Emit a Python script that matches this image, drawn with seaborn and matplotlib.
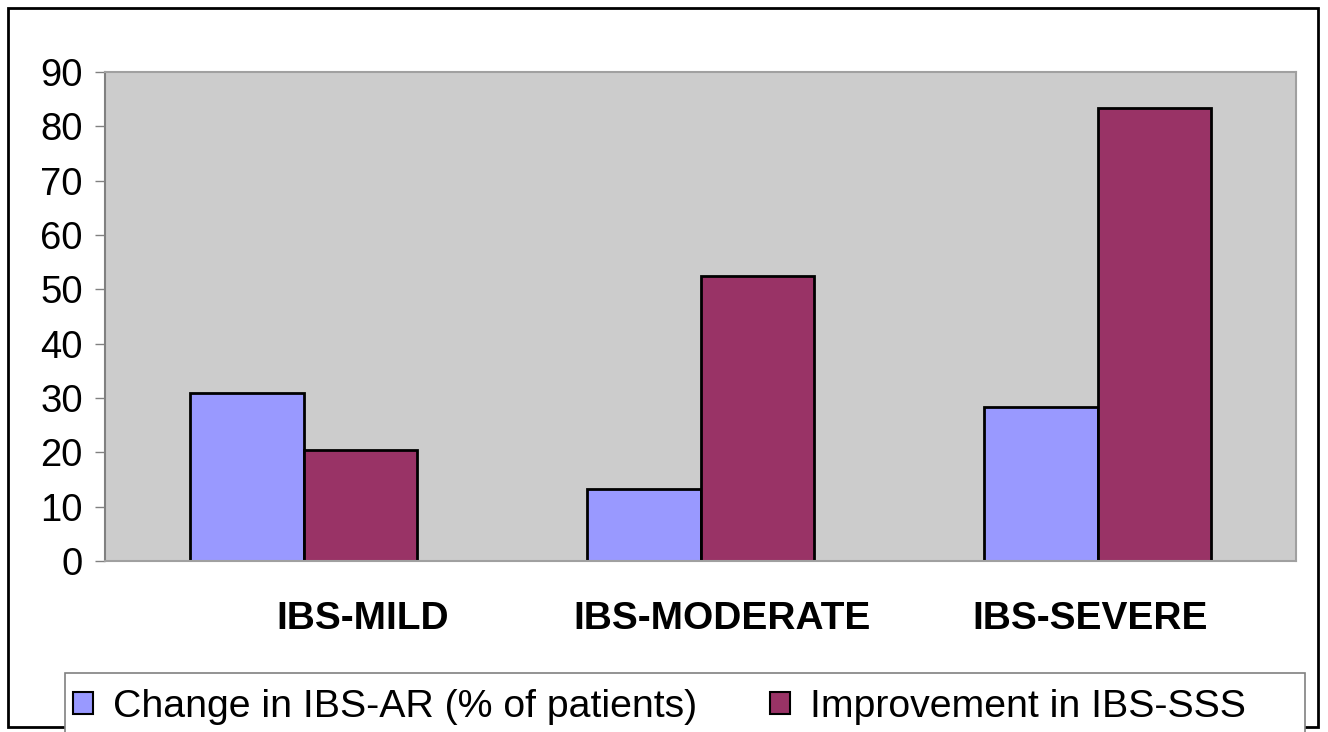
import matplotlib
matplotlib.use("Agg")
import matplotlib.pyplot as plt
import matplotlib.transforms as mtransforms
from matplotlib.patches import Rectangle
import pandas as pd
import seaborn as sns

# chart data
categories = ["IBS-MILD", "IBS-MODERATE", "IBS-SEVERE"]
series_names = ["Change in IBS-AR (% of patients)", "Improvement in IBS-SSS"]
change_ar = [30.9, 13.2, 28.3]
improvement_sss = [20.4, 52.4, 83.3]
y_ticks = [0, 10, 20, 30, 40, 50, 60, 70, 80, 90]
colors = ["#9999FF", "#993366"]

df = pd.DataFrame({
    "category": categories * 2,
    "series": [series_names[0]] * len(categories) + [series_names[1]] * len(categories),
    "value": change_ar + improvement_sss,
})

sns.set_style("white")
plt.rcParams["font.family"] = ["Liberation Sans", "DejaVu Sans"]
plt.rcParams["text.color"] = "black"
plt.rcParams["xtick.color"] = "black"
plt.rcParams["ytick.color"] = "black"

W, H = 1328, 732
fig = plt.figure(figsize=(W / 100, H / 100), dpi=100)
ax = fig.add_axes([105 / W, 1 - 561 / H, (1296 - 105) / W, (561 - 72) / H])

sns.barplot(data=df, x="category", y="value", hue="series", palette=colors,
            width=0.57, edgecolor="black", linewidth=2, saturation=1, ax=ax)

ax.set_facecolor("#CCCCCC")
ax.set_xlim(-0.5, 2.5)
ax.set_ylim(0, 90)
ax.set_yticks(y_ticks)
ax.set_xlabel("")
ax.set_ylabel("")
for side in ["top", "right", "bottom"]:
    ax.spines[side].set_color("#A0A0A0")
    ax.spines[side].set_linewidth(1.5)
ax.spines["left"].set_color("#808080")
ax.spines["left"].set_linewidth(1.5)

ax.tick_params(axis="y", direction="out", length=7, width=1, color="#808080",
               labelcolor="black", labelsize=27.5, pad=9, left=True)
ax.tick_params(axis="x", length=0, labelcolor="black", labelsize=28, pad=29)

# Excel-style category labels sit a bit off the group centres
offsets = [0.59, 0.22, -0.07]
for lab, dx in zip(ax.get_xticklabels(), offsets):
    lab.set_fontweight("bold")
    lab.set_transform(lab.get_transform() + mtransforms.ScaledTranslation(dx, 0, fig.dpi_scale_trans))

handles, labels = ax.get_legend_handles_labels()
ax.get_legend().remove()
leg = fig.legend(handles, labels, loc="center left",
                 bbox_to_anchor=(73 / W, 1 - 707 / H),
                 ncol=2, fontsize=28.3, frameon=False, borderaxespad=0, borderpad=0,
                 handlelength=0.52, handleheight=0.46, handletextpad=0.5,
                 columnspacing=1.85, labelcolor="black")
for h in leg.legend_handles:
    h.set_edgecolor("black")
    h.set_linewidth(1.5)

# outer chart frame and the legend box laid over its bottom edge
fig.patches.append(Rectangle((8 / W, 5 / H), 1310 / W, 719 / H, transform=fig.transFigure,
                             fill=False, edgecolor="black", linewidth=2, zorder=1))
fig.patches.append(Rectangle((65 / W, -5 / H), 1240 / W, (732 - 673 + 5) / H,
                             transform=fig.transFigure, facecolor="white",
                             edgecolor="#808080", linewidth=1.2, zorder=2))

fig.savefig("out.png", dpi=100)
